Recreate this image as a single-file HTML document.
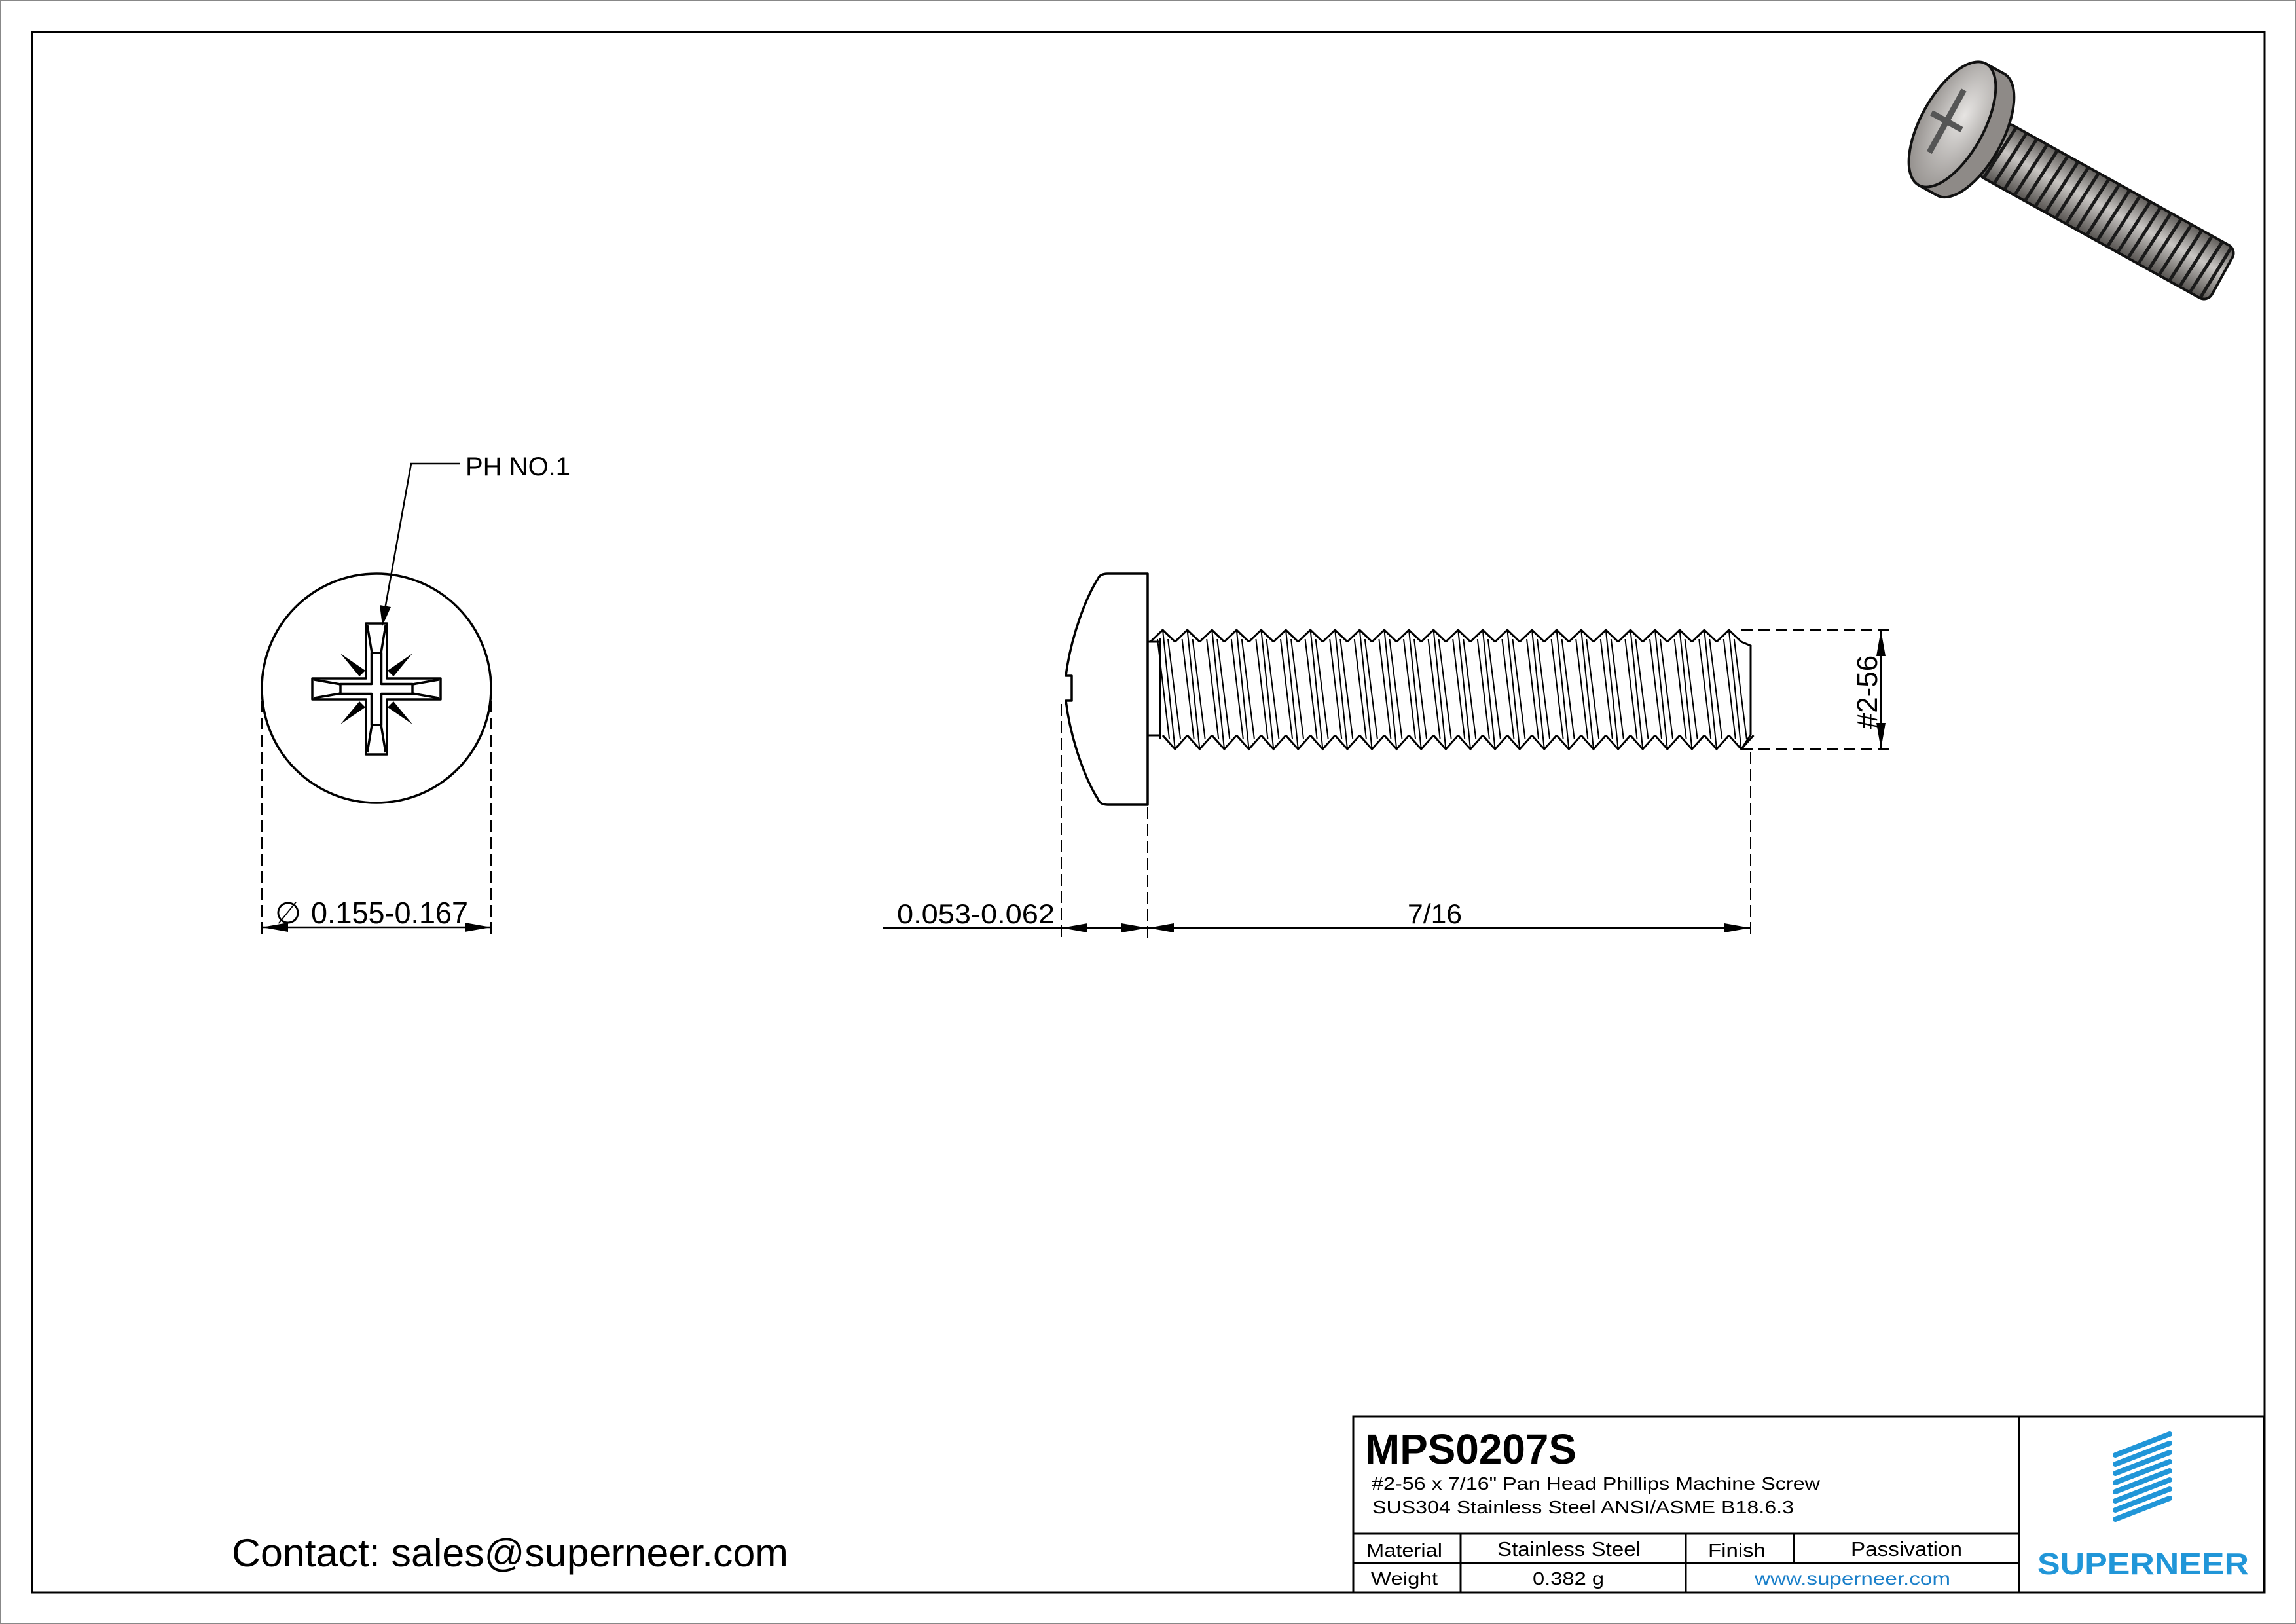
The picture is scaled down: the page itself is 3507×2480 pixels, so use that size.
<!DOCTYPE html>
<html><head><meta charset="utf-8"><style>
html,body{margin:0;padding:0;background:#fff}
svg{display:block}
text{font-family:"Liberation Sans",sans-serif}
</style></head><body>
<svg xmlns="http://www.w3.org/2000/svg" xmlns:xlink="http://www.w3.org/1999/xlink" width="3507" height="2480" viewBox="0 0 3507 2480">
<defs>
<g id="th" fill="none" stroke="#000" stroke-width="3">
<path d="M-18.8,980 L0,962 L18.8,980"/>
<path d="M0,1123 L18.8,1144 L37.6,1123"/>
<line x1="0" y1="962" x2="18.8" y2="1144" stroke-width="2"/>
<line x1="-8" y1="976" x2="10" y2="1128" stroke-width="2"/>
<line x1="8" y1="976" x2="27" y2="1128" stroke-width="2"/>
</g>
<radialGradient id="hg" cx="0.6" cy="0.4" r="0.7"><stop offset="0" stop-color="#e6e4e2"/><stop offset="1" stop-color="#8d8986"/></radialGradient>
<linearGradient id="sg" x1="0" y1="0" x2="0" y2="1"><stop offset="0" stop-color="#5e5b58"/><stop offset="0.45" stop-color="#c9c6c3"/><stop offset="1" stop-color="#55524f"/></linearGradient>
</defs>
<rect x="0" y="0" width="3507" height="2480" fill="#fff"/>
<rect x="1" y="1" width="3505" height="2478" fill="none" stroke="#888" stroke-width="2"/>
<rect x="49" y="49" width="3410" height="2383" fill="none" stroke="#000" stroke-width="3"/>

<!-- Top view -->
<circle cx="575" cy="1051" r="175" fill="none" stroke="#000" stroke-width="3.5"/>
<g fill="none" stroke="#000" stroke-width="3.5" stroke-linejoin="round">
<path d="M559,952 H591 V1036 H673 V1068 H591 V1152 H559 V1068 H477 V1036 H559 Z"/>
<path d="M567.5,997 H582.5 V1044.5 H630 V1059.5 H582.5 V1107 H567.5 V1059.5 H520 V1044.5 H567.5 Z"/>
<path d="M561,955 L568,997 M589,955 L582,997 M561,1149 L568,1107 M589,1149 L582,1107 M480,1038 L520,1045 M480,1066 L520,1059 M670,1038 L630,1045 M670,1066 L630,1059"/>
</g>
<g fill="#000">
<polygon points="520,998 558,1024 549,1033"/>
<polygon points="630,998 592,1024 601,1033"/>
<polygon points="520,1106 558,1080 549,1071"/>
<polygon points="630,1106 592,1080 601,1071"/>
</g>
<polyline points="703,708 628,708 588,930" fill="none" stroke="#000" stroke-width="2.5"/>
<polygon points="584,956 580,924 597,927" fill="#000"/>
<text x="711" y="726" font-size="40">PH NO.1</text>
<g stroke="#000" stroke-width="2" stroke-dasharray="18,8">
<line x1="400" y1="1070" x2="400" y2="1432"/>
<line x1="750" y1="1070" x2="750" y2="1432"/>
</g>
<line x1="400" y1="1416" x2="750" y2="1416" stroke="#000" stroke-width="2.5"/>
<polygon points="400,1416 440,1409 440,1423" fill="#000"/>
<polygon points="750,1416 710,1409 710,1423" fill="#000"/>
<text x="420" y="1410" font-size="46">∅</text>
<text x="475" y="1410" font-size="46" textLength="240" lengthAdjust="spacingAndGlyphs">0.155-0.167</text>

<!-- Side view -->
<path d="M1753,876 H1692 Q1680,876 1677,884 C1660,910 1636,970 1628,1032 H1637 V1070 H1628 C1636,1134 1660,1194 1677,1220 Q1680,1229 1692,1229 H1753 Z" fill="none" stroke="#000" stroke-width="3.5" stroke-linejoin="round"/>
<line x1="1753" y1="980" x2="1772" y2="980" stroke="#000" stroke-width="3"/>
<line x1="1753" y1="1123" x2="1772" y2="1123" stroke="#000" stroke-width="3"/>
<line x1="1772" y1="975" x2="1772" y2="1128" stroke="#000" stroke-width="2"/>
<use xlink:href="#th" x="1776"/><use xlink:href="#th" x="1813.6"/><use xlink:href="#th" x="1851.2"/><use xlink:href="#th" x="1888.8"/>
<use xlink:href="#th" x="1926.4"/><use xlink:href="#th" x="1964"/><use xlink:href="#th" x="2001.6"/><use xlink:href="#th" x="2039.2"/>
<use xlink:href="#th" x="2076.8"/><use xlink:href="#th" x="2114.4"/><use xlink:href="#th" x="2152"/><use xlink:href="#th" x="2189.6"/>
<use xlink:href="#th" x="2227.2"/><use xlink:href="#th" x="2264.8"/><use xlink:href="#th" x="2302.4"/><use xlink:href="#th" x="2340"/>
<use xlink:href="#th" x="2377.6"/><use xlink:href="#th" x="2415.2"/><use xlink:href="#th" x="2452.8"/><use xlink:href="#th" x="2490.4"/>
<use xlink:href="#th" x="2528"/><use xlink:href="#th" x="2565.6"/><use xlink:href="#th" x="2603.2"/><use xlink:href="#th" x="2640.8"/>
<path d="M2659.6,980 L2674,986 V1122 L2660,1144" fill="none" stroke="#000" stroke-width="3"/>
<g stroke="#000" stroke-width="2" stroke-dasharray="18,8">
<line x1="2660" y1="962" x2="2885" y2="962"/>
<line x1="2660" y1="1144" x2="2885" y2="1144"/>
<line x1="1621" y1="1075" x2="1621" y2="1432"/>
<line x1="1753" y1="1232" x2="1753" y2="1432"/>
<line x1="2674" y1="1148" x2="2674" y2="1432"/>
</g>
<line x1="2873" y1="962" x2="2873" y2="1144" stroke="#000" stroke-width="2.5"/>
<polygon points="2873,962 2866,1002 2880,1002" fill="#000"/>
<polygon points="2873,1144 2866,1104 2880,1104" fill="#000"/>
<text transform="translate(2867,1057) rotate(-90)" text-anchor="middle" font-size="44">#2-56</text>

<line x1="1348" y1="1417" x2="2674" y2="1417" stroke="#000" stroke-width="2.5"/>
<polygon points="1621,1417 1661,1410 1661,1424" fill="#000"/>
<polygon points="1753,1417 1713,1410 1713,1424" fill="#000"/>
<polygon points="1753,1417 1793,1410 1793,1424" fill="#000"/>
<polygon points="2674,1417 2634,1410 2634,1424" fill="#000"/>
<text x="1370" y="1410" font-size="42" textLength="241" lengthAdjust="spacingAndGlyphs">0.053-0.062</text>
<text x="2150" y="1410" font-size="42" textLength="83" lengthAdjust="spacingAndGlyphs">7/16</text>

<!-- 3D screw -->
<g transform="translate(3040,225) rotate(29)">
<rect x="0" y="-46" width="405" height="92" rx="14" fill="url(#sg)" stroke="#111" stroke-width="4"/>
<g stroke="#1a1a1a" stroke-width="5">
<line x1="20" y1="-46" x2="14" y2="46"/><line x1="38" y1="-46" x2="32" y2="46"/><line x1="56" y1="-46" x2="50" y2="46"/>
<line x1="74" y1="-46" x2="68" y2="46"/><line x1="92" y1="-46" x2="86" y2="46"/><line x1="110" y1="-46" x2="104" y2="46"/>
<line x1="128" y1="-46" x2="122" y2="46"/><line x1="146" y1="-46" x2="140" y2="46"/><line x1="164" y1="-46" x2="158" y2="46"/>
<line x1="182" y1="-46" x2="176" y2="46"/><line x1="200" y1="-46" x2="194" y2="46"/><line x1="218" y1="-46" x2="212" y2="46"/>
<line x1="236" y1="-46" x2="230" y2="46"/><line x1="254" y1="-46" x2="248" y2="46"/><line x1="272" y1="-46" x2="266" y2="46"/>
<line x1="290" y1="-46" x2="284" y2="46"/><line x1="308" y1="-46" x2="302" y2="46"/><line x1="326" y1="-46" x2="320" y2="46"/>
<line x1="344" y1="-46" x2="338" y2="46"/><line x1="362" y1="-46" x2="356" y2="46"/><line x1="380" y1="-46" x2="374" y2="46"/>
<line x1="396" y1="-44" x2="392" y2="44"/>
</g>
</g>
<g transform="translate(2982,190) rotate(29)">
<ellipse cx="32" cy="0" rx="48" ry="106" fill="#8e8a87" stroke="#111" stroke-width="4"/>
<rect x="0" y="-106" width="32" height="212" fill="#8e8a87"/>
<line x1="0" y1="-106" x2="32" y2="-106" stroke="#111" stroke-width="4"/>
<line x1="0" y1="106" x2="32" y2="106" stroke="#111" stroke-width="4"/>
<ellipse cx="0" cy="0" rx="48" ry="106" fill="url(#hg)" stroke="#111" stroke-width="4"/>
<g stroke="#555" stroke-width="9" stroke-linecap="square">
<line x1="-10" y1="-50" x2="-10" y2="50"/><line x1="-32" y1="0" x2="12" y2="0"/>
</g>
</g>

<!-- Title block -->
<g stroke="#000" stroke-width="3" fill="none">
<rect x="2067" y="2163" width="1391" height="269"/>
<line x1="3084" y1="2163" x2="3084" y2="2432"/>
<line x1="2067" y1="2342" x2="3084" y2="2342"/>
<line x1="2067" y1="2387" x2="3084" y2="2387"/>
<line x1="2231" y1="2342" x2="2231" y2="2432"/>
<line x1="2575" y1="2342" x2="2575" y2="2432"/>
<line x1="2740" y1="2342" x2="2740" y2="2387"/>
</g>
<text x="2085" y="2235" font-size="64" font-weight="bold" textLength="323" lengthAdjust="spacingAndGlyphs">MPS0207S</text>
<text x="2095" y="2275" font-size="28" textLength="685" lengthAdjust="spacingAndGlyphs">#2-56 x 7/16" Pan Head Phillips Machine Screw</text>
<text x="2096" y="2311" font-size="28" textLength="644" lengthAdjust="spacingAndGlyphs">SUS304 Stainless Steel ANSI/ASME B18.6.3</text>
<text x="2087" y="2377" font-size="28" textLength="116" lengthAdjust="spacingAndGlyphs">Material</text>
<text x="2287" y="2376" font-size="31" textLength="219" lengthAdjust="spacingAndGlyphs">Stainless Steel</text>
<text x="2609" y="2377" font-size="28" textLength="88" lengthAdjust="spacingAndGlyphs">Finish</text>
<text x="2827" y="2376" font-size="31" textLength="170" lengthAdjust="spacingAndGlyphs">Passivation</text>
<text x="2094" y="2420" font-size="28" textLength="102" lengthAdjust="spacingAndGlyphs">Weight</text>
<text x="2341" y="2420" font-size="28" textLength="109" lengthAdjust="spacingAndGlyphs">0.382 g</text>
<text x="2680" y="2420" font-size="28" fill="#1a7fc9" textLength="299" lengthAdjust="spacingAndGlyphs">www.superneer.com</text>
<g stroke="#2196d8" stroke-width="8" stroke-linecap="round">
<line x1="3231" y1="2222" x2="3314" y2="2190"/>
<line x1="3231" y1="2236" x2="3314" y2="2204"/>
<line x1="3231" y1="2250" x2="3314" y2="2218"/>
<line x1="3231" y1="2264" x2="3314" y2="2232"/>
<line x1="3231" y1="2278" x2="3314" y2="2246"/>
<line x1="3231" y1="2292" x2="3314" y2="2260"/>
<line x1="3231" y1="2306" x2="3314" y2="2274"/>
<line x1="3231" y1="2320" x2="3314" y2="2288"/>
</g>
<text x="3112" y="2404" font-size="46" font-weight="bold" fill="#2196d8" textLength="323" lengthAdjust="spacingAndGlyphs">SUPERNEER</text>

<text x="354" y="2392" font-size="60" font-family="'DejaVu Sans','Liberation Sans',sans-serif" textLength="850" lengthAdjust="spacingAndGlyphs">Contact: sales@superneer.com</text>
</svg>
</body></html>
